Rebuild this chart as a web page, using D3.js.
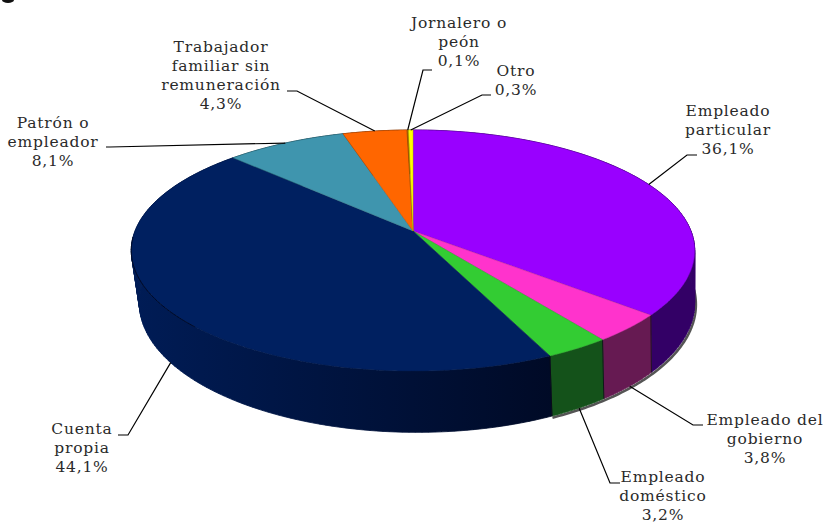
<!DOCTYPE html>
<html><head><meta charset="utf-8">
<script src="https://cdn.jsdelivr.net/npm/d3@7"></script>
<style>html,body{margin:0;padding:0;background:#fff}svg{display:block}text{font-family:"DejaVu Serif",serif;font-size:15.5px;letter-spacing:0.8px;fill:#2a2a2a;text-anchor:middle}</style>
</head><body><svg id="c" width="824" height="523"></svg>
<script>
const categories=["Empleado particular","Empleado del gobierno","Empleado doméstico","Cuenta propia","Patrón o empleador","Trabajador familiar sin remuneración","Jornalero o peón","Otro"];
const values=[36.1,3.8,3.2,44.1,8.1,4.3,0.1,0.3];
const valueLabels=["36,1%","3,8%","3,2%","44,1%","8,1%","4,3%","0,1%","0,3%"];
const labelLines=[["Empleado","particular"],["Empleado del","gobierno"],["Empleado","doméstico"],["Cuenta","propia"],["Patrón o","empleador"],["Trabajador","familiar sin","remuneración"],["Jornalero o","peón"],["Otro"]];
const topColors=["#9900FF","#FF33CC","#33CC33","#002060","#3F95AE","#FF6600","#B36B00","#FFFF00"];
const wallLeft=["#330066","#661A52","#14521A","#001C56","#15404C","#662900","#4D2D00","#666600"];
const wallRight=["#330066","#661A52","#14521A","#000A26","#15404C","#662900","#4D2D00","#666600"];

// layout: label centre, first baseline, leader elbow and stub end, which rim the leader lands on
const labelLayout=[
 {x:728,y:116,ex:687,ey:155,sx:697,rim:"top"},
 {x:765,y:425,ex:693,ey:425,sx:703,rim:"bottom"},
 {x:663,y:482,ex:610,ey:483,sx:620,rim:"bottom"},
 {x:82,y:434,ex:128,ey:435,sx:118,rim:"bottom"},
 {x:53,y:128,ex:110,ey:147,sx:106,rim:"top"},
 {x:221,y:52,ex:297,ey:91,sx:287,rim:"top"},
 {x:459,y:28,ex:423,ey:70,sx:432,rim:"top"},
 {x:516,y:76,ex:482,ey:95,sx:491,rim:"top"}];
const lineStep=19;

// perspective projection of the pie's circular rims
const k=0.162;
const topRim={cx:413,cy:231,B:278,A:117.4};
const botRim={cx:417,cy:282,B:274,A:126};
const project=(rim,a)=>{const u=Math.sin(a),v=Math.cos(a),d=1+k*v;return [rim.cx+rim.B*u/d,rim.cy-rim.A*v/d];};

const svg=d3.select("#c");
const defs=svg.append("defs");
const arcs=d3.pie().sort(null)(values);
const samples=(a0,a1,step=0.012)=>{const n=Math.max(1,Math.ceil((a1-a0)/step));return d3.range(n+1).map(i=>a0+(a1-a0)*i/n);};
const line=d3.line();

// stray mark at the top-left edge of the picture
svg.append("ellipse").attr("cx",8).attr("cy",0).attr("rx",6).attr("ry",3).attr("fill","#111");

// grey contour under the front of the base
const frontEnd=arcs[2].endAngle;
const rimShadow=samples(1.62,frontEnd).map(a=>{const p=project(botRim,a);return [p[0]+1.2*Math.sin(a),p[1]+1.6];});
svg.append("path").attr("d",line(rimShadow)).attr("fill","none").attr("stroke","#555").attr("stroke-width",2.6);

// walls: a sweep of quads between the rims, so the tangent sides stay filled
arcs.forEach((d,i)=>{
  const as=samples(d.startAngle,d.endAngle,0.02);
  const xs=as.flatMap(a=>[project(topRim,a)[0],project(botRim,a)[0]]);
  const g=defs.append("linearGradient").attr("id","w"+i).attr("gradientUnits","userSpaceOnUse")
    .attr("x1",d3.min(xs)).attr("x2",d3.max(xs)+1).attr("y1",0).attr("y2",0);
  g.append("stop").attr("offset","0%").attr("stop-color",wallLeft[i]);
  g.append("stop").attr("offset","100%").attr("stop-color",wallRight[i]);
  const quads=d3.pairs(as).map(([a0,a1])=>line([project(topRim,a0),project(topRim,a1),project(botRim,a1),project(botRim,a0)])+"Z");
  svg.append("path").attr("d",quads.join("")).attr("fill",`url(#w${i})`).attr("stroke",`url(#w${i})`).attr("stroke-width",0.8).attr("stroke-linejoin","round");
});

// dividing edges between front walls
arcs.slice(0,3).forEach(d=>{
  svg.append("path").attr("d",line([project(topRim,d.endAngle),project(botRim,d.endAngle)])).attr("stroke","#0a0a14").attr("stroke-width",0.8).attr("fill","none");
});

// top faces
arcs.forEach((d,i)=>{
  const pts=[[topRim.cx,topRim.cy]].concat(samples(d.startAngle,d.endAngle,0.01).map(a=>project(topRim,a)));
  svg.append("path").attr("d",line(pts)+"Z").attr("fill",topColors[i]).attr("stroke",d3.color(topColors[i]).darker(0.8)).attr("stroke-width",0.5);
});

// dark line on the upper edge of the left front wall
const navy=arcs[3];
svg.append("path").attr("d",line(samples(navy.startAngle+1.2,4.66).map(a=>project(topRim,a)))).attr("fill","none").attr("stroke","#000A26").attr("stroke-width",1);

// leaders
arcs.forEach((d,i)=>{
  const L=labelLayout[i],mid=(d.startAngle+d.endAngle)/2;
  const end=project(L.rim==="top"?topRim:botRim,mid);
  svg.append("path").attr("d",line([[L.sx,L.ey],[L.ex,L.ey],end])).attr("fill","none").attr("stroke","#000").attr("stroke-width",1.2);
});

// labels
arcs.forEach((d,i)=>{
  const L=labelLayout[i];
  const t=svg.append("text").attr("x",L.x).attr("y",L.y);
  labelLines[i].concat([valueLabels[i]]).forEach((s,j)=>{
    t.append("tspan").attr("x",L.x).attr("y",L.y+j*lineStep).text(s);
  });
});
</script></body></html>
